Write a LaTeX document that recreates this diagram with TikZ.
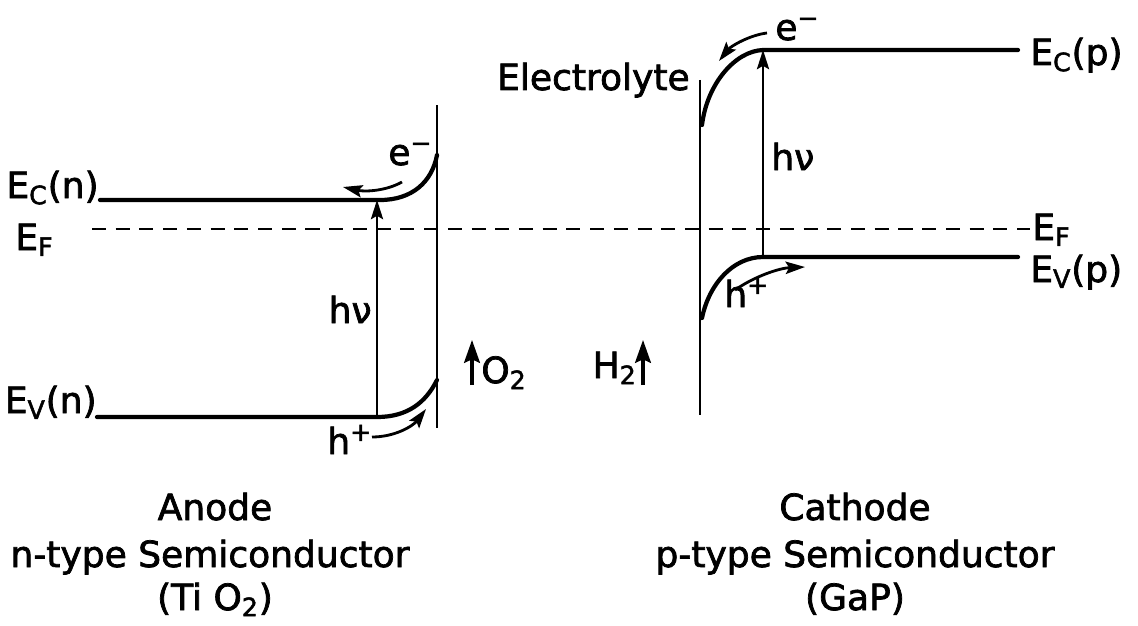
\documentclass[tikz,border=0pt]{standalone}
\usepackage{fontspec}
\setmainfont{DejaVu Sans}
\newfontfamily\lettering{DejaVu Sans}[FakeBold=2]
\usetikzlibrary{arrows.meta}
\begin{document}
\begin{tikzpicture}[
    x=0.02cm, y=-0.02cm,
    every node/.style={inner sep=0pt, font=\lettering\fontsize{20.5}{24}\selectfont},
    band/.style={line width=2.4pt, line cap=round},
    wall/.style={line width=1.3pt},
    fermi/.style={line width=1.1pt, dash pattern=on 8pt off 5.5pt},
    photon/.style={line width=1pt, -{Stealth[length=11pt,width=7pt,inset=2pt]}},
    carrier/.style={line width=1.6pt, -{Stealth[length=11pt,width=7pt,inset=2pt]}},
    gas/.style={line width=1.8pt, -{Stealth[length=13pt,width=9pt,inset=2pt]}}
]
  \useasboundingbox (0,0) rectangle (1138,625);

  % Anode (n-type) band edges
  \coordinate (ecnL) at (100,200);
  \coordinate (ecnB) at (380,200);
  \coordinate (ecnS) at (437,155);
  \coordinate (evnL) at (97,417);
  \coordinate (evnB) at (377,417);
  \coordinate (evnS) at (437,380);
  \draw[band] (ecnL) -- (ecnB) .. controls (412,200) and (432,182) .. (ecnS);
  \draw[band] (evnL) -- (evnB) .. controls (408,417) and (426,402) .. (evnS);
  \draw[wall] (437,105) coordinate (ifnT) -- (437,428) coordinate (ifnB);

  % Cathode (p-type) band edges
  \coordinate (ecpS) at (702,125);
  \coordinate (ecpB) at (763,50);
  \coordinate (ecpR) at (1018,50);
  \coordinate (evpS) at (702,318);
  \coordinate (evpB) at (763,257);
  \coordinate (evpR) at (1018,257);
  \draw[band] (ecpS) .. controls (707,84) and (735,51) .. (ecpB) -- (ecpR);
  \draw[band] (evpS) .. controls (709,284) and (733,257) .. (evpB) -- (evpR);
  \draw[wall] (700,80) coordinate (ifpT) -- (700,415) coordinate (ifpB);

  % Fermi level
  \coordinate (efL) at (92,229);
  \coordinate (efR) at (1030,229);
  \draw[fermi] (efL) -- (efR);

  % Photon excitation
  \coordinate (hvnB) at (377,417);
  \coordinate (hvnT) at (377,200);
  \coordinate (hvpB) at (763,257);
  \coordinate (hvpT) at (763,50);
  \draw[photon] (hvnB) -- (hvnT);
  \draw[photon] (hvpB) -- (hvpT);

  % Carrier drift
  \coordinate (enA) at (402,182);
  \coordinate (enB) at (343,187);
  \coordinate (hnA) at (372,437);
  \coordinate (hnB) at (426,409);
  \coordinate (epA) at (767,33);
  \coordinate (epB) at (719,61);
  \coordinate (hpA) at (735,290);
  \coordinate (hpB) at (805,267);
  \draw[carrier] (enA) .. controls (386,191) and (365,192) .. (enB);
  \draw[carrier] (hnA) .. controls (395,437) and (413,426) .. (hnB);
  \draw[carrier] (epA) .. controls (750,35) and (731,46) .. (epB);
  \draw[carrier] (hpA) .. controls (755,276) and (780,268) .. (hpB);

  % Gas evolution
  \coordinate (o2B) at (472,385);
  \coordinate (o2T) at (472,340);
  \coordinate (h2B) at (643,385);
  \coordinate (h2T) at (643,340);
  \draw[gas] (o2B) -- (o2T);
  \draw[gas] (h2B) -- (h2T);

  % Level labels
  \node[anchor=base east] (lecn) at (99,198) {E\textsubscript{C}(n)};
  \node[anchor=base west] (lefn) at (15,250) {E\textsubscript{F}};
  \node[anchor=base east] (levn) at (97,413) {E\textsubscript{V}(n)};
  \node[anchor=base west] (lecp) at (1030,65) {E\textsubscript{C}(p)};
  \node[anchor=base west] (lefp) at (1032,240) {E\textsubscript{F}};
  \node[anchor=base west] (levp) at (1030,282) {E\textsubscript{V}(p)};

  % Process labels
  \node[anchor=base east] (hvn) at (372,323) {hν};
  \node[anchor=base west] (hvp) at (771,170) {hν};
  \node[anchor=base west] (en) at (388,165) {e\textsuperscript{−}};
  \node[anchor=base west] (ep) at (775,40) {e\textsuperscript{−}};
  \node[anchor=base west] (hn) at (327,454) {h\textsuperscript{+}};
  \node[anchor=base west] (hp) at (724,307) {h\textsuperscript{+}};
  \node[anchor=base west] (o2) at (481,383) {O\textsubscript{2}};
  \node[anchor=base east] (h2) at (637,378) {H\textsubscript{2}};
  \node[anchor=base east] (elyte) at (690,90) {Electrolyte};

  % Electrode captions
  \node[anchor=base] (anode) at (215,520) {Anode};
  \node[anchor=base] (ntype) at (210,567) {n-type Semiconductor};
  \node[anchor=base] (tio2) at (215,610) {(Ti O\textsubscript{2})};
  \node[anchor=base] (cathode) at (855,520) {Cathode};
  \node[anchor=base] (ptype) at (855,567) {p-type Semiconductor};
  \node[anchor=base] (gap) at (855,610) {(GaP)};
\end{tikzpicture}
\end{document}
